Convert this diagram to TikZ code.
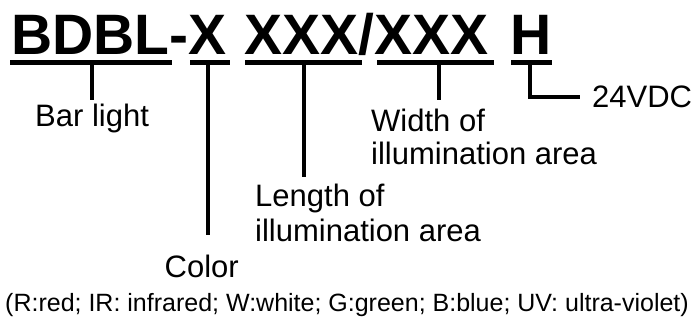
\documentclass[tikz,border=0pt]{standalone}
\usepackage{fontspec}
\setmainfont{Liberation Sans}
\begin{document}
\begin{tikzpicture}[x=1pt,y=-1pt,
  code/.style={inner sep=0pt,anchor=base west,font=\fontsize{57}{60}\selectfont\bfseries},
  lbl/.style={inner sep=0pt,anchor=base west,font=\fontsize{31}{34}\selectfont},
  note/.style={inner sep=0pt,anchor=base west,font=\fontsize{25}{28}\selectfont},
  bar/.style={line width=5pt,line cap=butt},
  stem/.style={line width=4.8pt,line cap=butt,line join=miter}]
\useasboundingbox[fill=white] (0,0) rectangle (693,320);
% code text
\node[code] (c1) at (11,55) {BDBL-X};
\node[code] (c2) at (244,55) {XXX/XXX};
\node[code] (c3) at (510,55) {H};
% underline bars
\coordinate (b1l) at (10,62.5);  \coordinate (b1r) at (172,62.5);
\coordinate (b2l) at (190,62.5); \coordinate (b2r) at (230,62.5);
\coordinate (b3l) at (245,62.5); \coordinate (b3r) at (362,62.5);
\coordinate (b4l) at (377,62.5); \coordinate (b4r) at (494,62.5);
\coordinate (b5l) at (511,62.5); \coordinate (b5r) at (552,62.5);
\draw[bar] (b1l) -- (b1r);
\draw[bar] (b2l) -- (b2r);
\draw[bar] (b3l) -- (b3r);
\draw[bar] (b4l) -- (b4r);
\draw[bar] (b5l) -- (b5r);
% stem top points
\coordinate (s1) at (92,62);
\coordinate (s2) at (208,62);
\coordinate (s3) at (304,62);
\coordinate (s4) at (439,62);
\coordinate (s5) at (530,62);
% stem ends
\coordinate (e1) at (92,100);
\coordinate (e2) at (208,235);
\coordinate (e3) at (304,177);
\coordinate (e4) at (439,100);
\coordinate (e5) at (530,97);
\coordinate (e5b) at (580,97);
\draw[stem] (s1) -- (e1);
\draw[stem] (s2) -- (e2);
\draw[stem] (s3) -- (e3);
\draw[stem] (s4) -- (e4);
\draw[stem] (s5) -- (e5) -- (e5b);
% labels
\node[lbl] (bar) at (35,127) {Bar light};
\node[lbl] (wid1) at (371,132) {Width of};
\node[lbl] (wid2) at (371,165) {illumination area};
\node[lbl] (volt) at (592,108) {24VDC};
\node[lbl] (len1) at (255,207) {Length of};
\node[lbl] (len2) at (255,242) {illumination area};
\node[lbl] (col) at (164.5,278) {Color};
\node[note] (colors) at (5,311) {(R:red; IR: infrared; W:white; G:green; B:blue; UV: ultra-violet)};
\end{tikzpicture}
\end{document}
